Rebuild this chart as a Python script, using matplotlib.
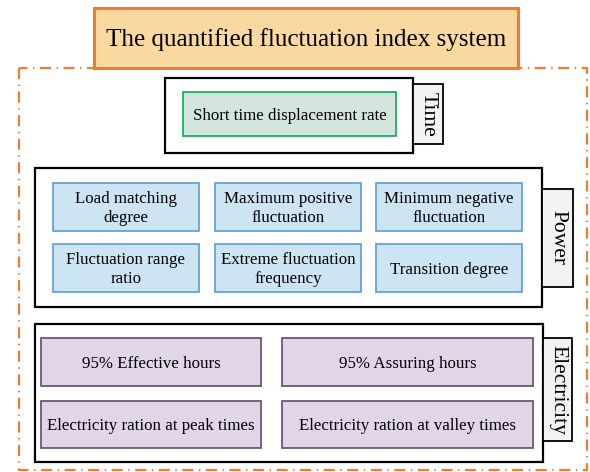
import matplotlib.pyplot as plt
from matplotlib.patches import Rectangle

plt.rcParams['font.family'] = ['Liberation Serif', 'DejaVu Serif']

title = "The quantified fluctuation index system"
group_names = ["Time", "Power", "Electricity"]
time_items = ["Short time displacement rate"]
power_items = ["Load matching\ndegree", "Maximum positive\nfluctuation", "Minimum negative\nfluctuation",
               "Fluctuation range\nratio", "Extreme fluctuation\nfrequency", "Transition degree"]
elec_items = ["95% Effective hours", "95% Assuring hours",
              "Electricity ration at peak times", "Electricity ration at valley times"]

ORANGE = '#ED7D31'

fig = plt.figure(figsize=(5.9, 4.72), dpi=100)
ax = fig.add_axes([0, 0, 1, 1])
ax.set_xlim(0, 590)
ax.set_ylim(472, 0)
ax.axis('off')


def box(x0, y0, x1, y1, fc, ec, lw=1.0, z=2):
    ax.add_patch(Rectangle((x0, y0), x1 - x0, y1 - y0, facecolor=fc, edgecolor=ec, lw=lw, zorder=z))


def label(x0, y0, x1, y1, txt, size=12.2, rot=0, dy=1.5):
    ax.text((x0 + x1) / 2, (y0 + y1) / 2 + dy, txt, ha='center', va='center', fontsize=size,
            rotation=rot, linespacing=1.3, zorder=5)


# outer dash-dot frame
ax.plot([19, 19, 587, 587, 19], [68, 470, 470, 68, 68], color=ORANGE, lw=1.6,
        ls=(0, (5, 2.5, 0.6, 2.5)), zorder=1)

# title
box(94, 8, 518, 68, '#FAD9A1', ORANGE, lw=2.2, z=3)
label(94, 8, 518, 68, title, size=18.1)

# Time group
box(165, 78, 413, 153, 'white', 'black', lw=1.6)
box(413, 84, 443, 144, '#F2F2F2', 'black', lw=1.3)
label(413, 84, 443, 144, group_names[0], size=15.5, rot=270, dy=0)
box(183, 92, 396, 136, '#D3E5DC', '#00B050', lw=1.2, z=3)
label(183, 92, 396, 136, time_items[0])

# Power group
box(35, 168, 542, 307, 'white', 'black', lw=1.6)
box(542, 189, 573, 287, '#F2F2F2', 'black', lw=1.3)
label(542, 189, 573, 287, group_names[1], size=15.5, rot=270, dy=0)
cols = [(53, 199), (215, 361), (376, 522)]
rows = [(183, 231), (244, 292)]
for i, txt in enumerate(power_items):
    x0, x1 = cols[i % 3]
    y0, y1 = rows[i // 3]
    box(x0, y0, x1, y1, '#CDE5F3', '#5B9BD5', lw=1.2, z=3)
    label(x0, y0, x1, y1, txt)

# Electricity group
box(35, 324, 543, 462, 'white', 'black', lw=1.6)
box(543, 338, 572, 441, '#F2F2F2', 'black', lw=1.3)
label(543, 338, 572, 441, group_names[2], size=15.5, rot=270, dy=0)
cols = [(41, 261), (282, 533)]
rows = [(338, 386), (401, 448)]
for i, txt in enumerate(elec_items):
    x0, x1 = cols[i % 2]
    y0, y1 = rows[i // 2]
    box(x0, y0, x1, y1, '#E1D5E7', '#5E4B6E', lw=1.2, z=3)
    label(x0, y0, x1, y1, txt)

fig.savefig('out.png', dpi=100)
